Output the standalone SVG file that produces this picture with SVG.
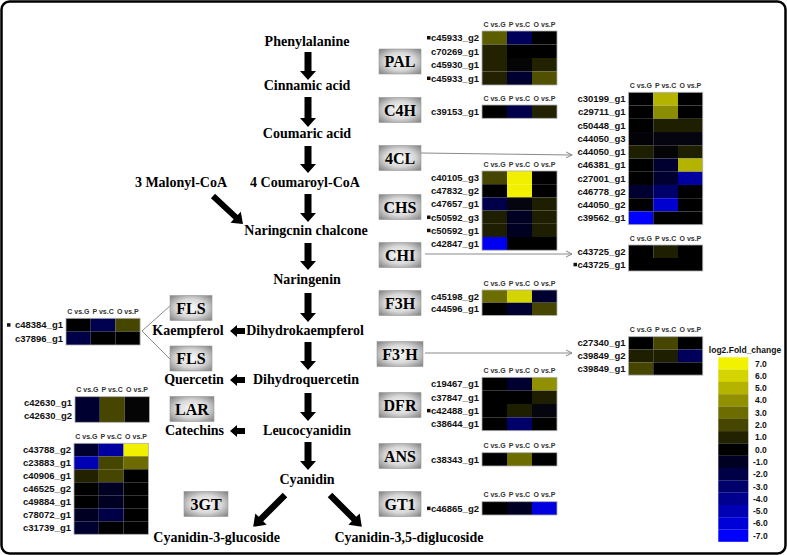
<svg xmlns="http://www.w3.org/2000/svg" width="787" height="555" viewBox="0 0 787 555">
<defs>
<radialGradient id="boxg" cx="50%" cy="50%" r="65%">
<stop offset="0" stop-color="#fbfbfb"/>
<stop offset="0.55" stop-color="#d8d8d8"/>
<stop offset="1" stop-color="#8a8a8a"/>
</radialGradient>
<marker id="thin" viewBox="0 0 8 8" refX="7" refY="4" markerWidth="8" markerHeight="8" orient="auto" markerUnits="userSpaceOnUse">
<path d="M1,1 L7,4 L1,7" fill="none" stroke="#888" stroke-width="1"/>
</marker>
</defs>
<style>
.pw{font-family:"Liberation Serif","Times New Roman",serif;font-weight:bold;font-size:14px;text-anchor:middle;fill:#000}
.enz{font-family:"Liberation Serif","Times New Roman",serif;font-weight:bold;font-size:16px;text-anchor:middle;fill:#000}
.box{fill:url(#boxg);stroke:#9a9a9a;stroke-width:0.6}
.lbl{font-family:"Liberation Sans",Arial,sans-serif;font-weight:bold;font-size:9.5px;text-anchor:end;fill:#111}
.hdr{font-family:"Liberation Sans",Arial,sans-serif;font-weight:bold;font-size:7px;text-anchor:middle;fill:#333}
.ol{fill:none;stroke:#b0b0b0;stroke-width:0.8}
.mk{fill:#111}
.thin{stroke:#8a8a8a;stroke-width:1;fill:none}
.arw{fill:#000}
.leg{font-family:"Liberation Sans",Arial,sans-serif;font-weight:bold;font-size:8.5px;fill:#111}
</style>
<rect x="1.5" y="1.5" width="784" height="552" rx="8" fill="#fff" stroke="#000" stroke-width="2.5"/>

<g id="connectors">
<path class="thin" d="M421,153 L572,155" marker-end="url(#thin)"/>
<path class="thin" d="M425,254 L572,254" marker-end="url(#thin)"/>
<path class="thin" d="M425,353 L572,353" marker-end="url(#thin)"/>
<path class="thin" d="M171,305 L142,331 L171,360"/>
<g class="arw">
<path d="M304.5,52 h7 v19 h4.5 l-8,9 l-8,-9 h4.5z"/>
<path d="M304.5,97 h7 v21 h4.5 l-8,9 l-8,-9 h4.5z"/>
<path d="M304.5,146 h7 v18 h4.5 l-8,9 l-8,-9 h4.5z"/>
<path d="M304.5,194 h7 v19 h4.5 l-8,9 l-8,-9 h4.5z"/>
<path d="M304.5,243 h7 v18 h4.5 l-8,9 l-8,-9 h4.5z"/>
<path d="M304.5,293 h7 v20 h4.5 l-8,9 l-8,-9 h4.5z"/>
<path d="M304.5,342 h7 v19 h4.5 l-8,9 l-8,-9 h4.5z"/>
<path d="M304.5,393 h7 v19 h4.5 l-8,9 l-8,-9 h4.5z"/>
<path d="M304.5,442 h7 v19 h4.5 l-8,9 l-8,-9 h4.5z"/>
<path transform="translate(213,196) rotate(43)" d="M0,-3 L31,-3 L31,-7.5 L41,0 L31,7.5 L31,3 L0,3 Z"/>
<path transform="translate(285,495) rotate(135)" d="M0,-3.2 L34,-3.2 L34,-8 L45,0 L34,8 L34,3.2 L0,3.2 Z"/>
<path transform="translate(330,495) rotate(45)" d="M0,-3.2 L34,-3.2 L34,-8 L45,0 L34,8 L34,3.2 L0,3.2 Z"/>
<path transform="translate(245,331) rotate(180)" d="M0,-3 L8,-3 L8,-6 L15,0 L8,6 L8,3 L0,3 Z"/>
<path transform="translate(245,380) rotate(180)" d="M0,-3 L8,-3 L8,-6 L15,0 L8,6 L8,3 L0,3 Z"/>
<path transform="translate(245,431) rotate(180)" d="M0,-3 L8,-3 L8,-6 L15,0 L8,6 L8,3 L0,3 Z"/>
</g>
</g>

<g id="compounds">
<g id="phenylalanine"><text class="pw" x="307" y="46">Phenylalanine</text></g>
<g id="cinnamic"><text class="pw" x="307" y="90">Cinnamic acid</text></g>
<g id="coumaric"><text class="pw" x="307" y="138">Coumaric acid</text></g>
<g id="coumaroylcoa"><text class="pw" x="305" y="187">4 Coumaroyl-CoA</text></g>
<g id="malonylcoa"><text class="pw" x="181" y="187">3 Malonyl-CoA</text></g>
<g id="chalcone"><text class="pw" x="306" y="235">Naringcnin chalcone</text></g>
<g id="naringenin"><text class="pw" x="307" y="283.5">Naringenin</text></g>
<g id="dihydrokaempferol"><text class="pw" x="305" y="335">Dihydrokaempferol</text></g>
<g id="kaempferol"><text class="pw" x="188" y="335">Kaempferol</text></g>
<g id="dihydroquercetin"><text class="pw" x="306" y="383.5">Dihydroquercetin</text></g>
<g id="quercetin"><text class="pw" x="194" y="383.5">Quercetin</text></g>
<g id="leucocyanidin"><text class="pw" x="307" y="435">Leucocyanidin</text></g>
<g id="catechins"><text class="pw" x="194.5" y="435">Catechins</text></g>
<g id="cyanidin"><text class="pw" x="307" y="483.5">Cyanidin</text></g>
<g id="cyanidin3g"><text class="pw" x="216.7" y="541.7">Cyanidin-3-glucoside</text></g>
<g id="cyanidin35dg"><text class="pw" x="409" y="541.7">Cyanidin-3,5-diglucoside</text></g>
</g>

<g id="enzymes">
<g id="PAL"><rect class="box" x="379" y="49" width="42" height="25"/><text class="enz" x="400" y="67">PAL</text></g>
<g id="C4H"><rect class="box" x="379" y="97.5" width="42" height="25"/><text class="enz" x="400" y="115.5">C4H</text></g>
<g id="4CL"><rect class="box" x="379" y="145.5" width="42" height="25"/><text class="enz" x="400" y="163.5">4CL</text></g>
<g id="CHS"><rect class="box" x="379" y="194.5" width="42" height="25"/><text class="enz" x="400" y="212.5">CHS</text></g>
<g id="CHI"><rect class="box" x="379" y="242.5" width="42" height="25"/><text class="enz" x="400" y="260.5">CHI</text></g>
<g id="F3H"><rect class="box" x="379" y="290.5" width="42" height="25"/><text class="enz" x="400" y="308.5">F3H</text></g>
<g id="F3pH"><rect class="box" x="377" y="341.5" width="46" height="25"/><text class="enz" x="400" y="359.5">F3’H</text></g>
<g id="DFR"><rect class="box" x="379" y="392.5" width="42" height="25"/><text class="enz" x="400" y="410.5">DFR</text></g>
<g id="ANS"><rect class="box" x="379" y="443.5" width="42" height="25"/><text class="enz" x="400" y="461.5">ANS</text></g>
<g id="GT1"><rect class="box" x="379" y="491.5" width="42" height="25"/><text class="enz" x="400" y="509.5">GT1</text></g>
<g id="FLS1"><rect class="box" x="170" y="295.5" width="42" height="25"/><text class="enz" x="191" y="313.5">FLS</text></g>
<g id="FLS2"><rect class="box" x="170" y="346" width="42" height="25"/><text class="enz" x="191" y="364">FLS</text></g>
<g id="LAR"><rect class="box" x="170" y="396.5" width="44" height="25"/><text class="enz" x="192" y="414.5">LAR</text></g>
<g id="3GT"><rect class="box" x="184" y="491.5" width="44" height="25"/><text class="enz" x="206" y="509.5">3GT</text></g>
</g>

<g id="hm-PAL" transform="translate(482,31)">
<text class="hdr" x="12.5" y="-4.5">C vs.G</text><text class="hdr" x="37.5" y="-4.5">P vs.C</text><text class="hdr" x="62.5" y="-4.5">O vs.P</text>
<rect x="0" y="0" width="25" height="13.5" fill="#5c5c00"/><rect x="25" y="0" width="25" height="13.5" fill="#00005a"/><rect x="50" y="0" width="25" height="13.5" fill="#000"/>
<rect x="0" y="13.5" width="25" height="13.5" fill="#222200"/><rect x="25" y="13.5" width="25" height="13.5" fill="#000"/><rect x="50" y="13.5" width="25" height="13.5" fill="#000"/>
<rect x="0" y="27" width="25" height="13.5" fill="#222200"/><rect x="25" y="27" width="25" height="13.5" fill="#050505"/><rect x="50" y="27" width="25" height="13.5" fill="#222200"/>
<rect x="0" y="40.5" width="25" height="13.5" fill="#222200"/><rect x="25" y="40.5" width="25" height="13.5" fill="#000030"/><rect x="50" y="40.5" width="25" height="13.5" fill="#505000"/>
<rect class="ol" x="0" y="0" width="75" height="54"/>
<text class="lbl" x="-3" y="10.2">c45933_g2</text><text class="lbl" x="-3" y="23.7">c70269_g1</text><text class="lbl" x="-3" y="37.2">c45930_g1</text><text class="lbl" x="-3" y="50.7">c45933_g1</text>
<rect class="mk" x="-55" y="5" width="3.5" height="3.5"/><rect class="mk" x="-55" y="45.5" width="3.5" height="3.5"/>
</g>

<g id="hm-C4H" transform="translate(482,105)">
<text class="hdr" x="12.5" y="-4.5">C vs.G</text><text class="hdr" x="37.5" y="-4.5">P vs.C</text><text class="hdr" x="62.5" y="-4.5">O vs.P</text>
<rect x="0" y="0" width="25" height="13.3" fill="#000"/><rect x="25" y="0" width="25" height="13.3" fill="#00004a"/><rect x="50" y="0" width="25" height="13.3" fill="#222200"/>
<rect class="ol" x="0" y="0" width="75" height="13.3"/>
<text class="lbl" x="-3" y="10">c39153_g1</text>
</g>

<g id="hm-CHS" transform="translate(482,171)">
<text class="hdr" x="12.5" y="-4.5">C vs.G</text><text class="hdr" x="37.5" y="-4.5">P vs.C</text><text class="hdr" x="62.5" y="-4.5">O vs.P</text>
<rect x="0" y="0" width="25" height="13.2" fill="#464600"/><rect x="25" y="0" width="25" height="13.2" fill="#f0f000"/><rect x="50" y="0" width="25" height="13.2" fill="#000"/>
<rect x="0" y="13.2" width="25" height="13.2" fill="#000"/><rect x="25" y="13.2" width="25" height="13.2" fill="#f0f000"/><rect x="50" y="13.2" width="25" height="13.2" fill="#000"/>
<rect x="0" y="26.4" width="25" height="13.2" fill="#00004a"/><rect x="25" y="26.4" width="25" height="13.2" fill="#050510"/><rect x="50" y="26.4" width="25" height="13.2" fill="#1e1e00"/>
<rect x="0" y="39.6" width="25" height="13.2" fill="#1e1e00"/><rect x="25" y="39.6" width="25" height="13.2" fill="#000022"/><rect x="50" y="39.6" width="25" height="13.2" fill="#1e1e00"/>
<rect x="0" y="52.8" width="25" height="13.2" fill="#1e1e00"/><rect x="25" y="52.8" width="25" height="13.2" fill="#000022"/><rect x="50" y="52.8" width="25" height="13.2" fill="#1e1e00"/>
<rect x="0" y="66" width="25" height="13.2" fill="#0000f0"/><rect x="25" y="66" width="25" height="13.2" fill="#000"/><rect x="50" y="66" width="25" height="13.2" fill="#000"/>
<rect class="ol" x="0" y="0" width="75" height="79.2"/>
<text class="lbl" x="-3" y="10">c40105_g3</text><text class="lbl" x="-3" y="23.2">c47832_g2</text><text class="lbl" x="-3" y="36.4">c47657_g1</text><text class="lbl" x="-3" y="49.6">c50592_g3</text><text class="lbl" x="-3" y="62.8">c50592_g1</text><text class="lbl" x="-3" y="76">c42847_g1</text>
<rect class="mk" x="-55" y="44.5" width="3.5" height="3.5"/><rect class="mk" x="-55" y="57.7" width="3.5" height="3.5"/>
</g>

<g id="hm-4CL" transform="translate(628.5,92.3)">
<text class="hdr" x="12.4" y="-4.5">C vs.G</text><text class="hdr" x="37.1" y="-4.5">P vs.C</text><text class="hdr" x="61.9" y="-4.5">O vs.P</text>
<rect x="0" y="0" width="24.75" height="13.24" fill="#000"/><rect x="24.75" y="0" width="24.75" height="13.24" fill="#b4b400"/><rect x="49.5" y="0" width="24.75" height="13.24" fill="#000"/>
<rect x="0" y="13.24" width="24.75" height="13.24" fill="#000"/><rect x="24.75" y="13.24" width="24.75" height="13.24" fill="#8c8c00"/><rect x="49.5" y="13.24" width="24.75" height="13.24" fill="#000"/>
<rect x="0" y="26.48" width="24.75" height="13.24" fill="#000"/><rect x="24.75" y="26.48" width="24.75" height="13.24" fill="#1e1e00"/><rect x="49.5" y="26.48" width="24.75" height="13.24" fill="#1e1e00"/>
<rect x="0" y="39.72" width="24.75" height="13.24" fill="#020208"/><rect x="24.75" y="39.72" width="24.75" height="13.24" fill="#050510"/><rect x="49.5" y="39.72" width="24.75" height="13.24" fill="#050510"/>
<rect x="0" y="52.96" width="24.75" height="13.24" fill="#1e1e00"/><rect x="24.75" y="52.96" width="24.75" height="13.24" fill="#050505"/><rect x="49.5" y="52.96" width="24.75" height="13.24" fill="#1e1e00"/>
<rect x="0" y="66.2" width="24.75" height="13.24" fill="#000"/><rect x="24.75" y="66.2" width="24.75" height="13.24" fill="#000030"/><rect x="49.5" y="66.2" width="24.75" height="13.24" fill="#b4b400"/>
<rect x="0" y="79.44" width="24.75" height="13.24" fill="#000"/><rect x="24.75" y="79.44" width="24.75" height="13.24" fill="#000030"/><rect x="49.5" y="79.44" width="24.75" height="13.24" fill="#0000a0"/>
<rect x="0" y="92.68" width="24.75" height="13.24" fill="#000030"/><rect x="24.75" y="92.68" width="24.75" height="13.24" fill="#00006a"/><rect x="49.5" y="92.68" width="24.75" height="13.24" fill="#000"/>
<rect x="0" y="105.92" width="24.75" height="13.24" fill="#000"/><rect x="24.75" y="105.92" width="24.75" height="13.24" fill="#0000d0"/><rect x="49.5" y="105.92" width="24.75" height="13.24" fill="#000"/>
<rect x="0" y="119.16" width="24.75" height="13.24" fill="#0000ff"/><rect x="24.75" y="119.16" width="24.75" height="13.24" fill="#000"/><rect x="49.5" y="119.16" width="24.75" height="13.24" fill="#000"/>
<rect class="ol" x="0" y="0" width="74.25" height="132.4"/>
<text class="lbl" x="-3" y="10">c30199_g1</text><text class="lbl" x="-3" y="23.2">c29711_g1</text><text class="lbl" x="-3" y="36.5">c50448_g1</text><text class="lbl" x="-3" y="49.7">c44050_g3</text><text class="lbl" x="-3" y="63">c44050_g1</text><text class="lbl" x="-3" y="76.2">c46381_g1</text><text class="lbl" x="-3" y="89.4">c27001_g1</text><text class="lbl" x="-3" y="102.7">c46778_g2</text><text class="lbl" x="-3" y="115.9">c44050_g2</text><text class="lbl" x="-3" y="129.2">c39562_g1</text>
</g>

<g id="hm-CHI" transform="translate(628.5,245)">
<text class="hdr" x="12.4" y="-4.5">C vs.G</text><text class="hdr" x="37.1" y="-4.5">P vs.C</text><text class="hdr" x="61.9" y="-4.5">O vs.P</text>
<rect x="0" y="0" width="24.75" height="13" fill="#000"/><rect x="24.75" y="0" width="24.75" height="13" fill="#1e1e00"/><rect x="49.5" y="0" width="24.75" height="13" fill="#000"/>
<rect x="0" y="13" width="74.25" height="13" fill="#000"/>
<rect class="ol" x="0" y="0" width="74.25" height="26"/>
<text class="lbl" x="-3" y="9.9">c43725_g2</text><text class="lbl" x="-3" y="22.9">c43725_g1</text>
<rect class="mk" x="-55" y="17.8" width="3.5" height="3.5"/>
</g>

<g id="hm-F3H" transform="translate(482,290)">
<text class="hdr" x="12.5" y="-4.5">C vs.G</text><text class="hdr" x="37.5" y="-4.5">P vs.C</text><text class="hdr" x="62.5" y="-4.5">O vs.P</text>
<rect x="0" y="0" width="25" height="12.7" fill="#6c6c00"/><rect x="25" y="0" width="25" height="12.7" fill="#d4d400"/><rect x="50" y="0" width="25" height="12.7" fill="#000030"/>
<rect x="0" y="12.7" width="25" height="12.7" fill="#000"/><rect x="25" y="12.7" width="25" height="12.7" fill="#000030"/><rect x="50" y="12.7" width="25" height="12.7" fill="#464600"/>
<rect class="ol" x="0" y="0" width="75" height="25.4"/>
<text class="lbl" x="-3" y="9.7">c45198_g2</text><text class="lbl" x="-3" y="22.4">c44596_g1</text>
</g>

<g id="hm-F3pH" transform="translate(628.5,336.7)">
<text class="hdr" x="12.4" y="-4.5">C vs.G</text><text class="hdr" x="37.1" y="-4.5">P vs.C</text><text class="hdr" x="61.9" y="-4.5">O vs.P</text>
<rect x="0" y="0" width="24.75" height="12.8" fill="#000"/><rect x="24.75" y="0" width="24.75" height="12.8" fill="#464600"/><rect x="49.5" y="0" width="24.75" height="12.8" fill="#000"/>
<rect x="0" y="12.8" width="24.75" height="12.8" fill="#1e1e00"/><rect x="24.75" y="12.8" width="24.75" height="12.8" fill="#1e1e00"/><rect x="49.5" y="12.8" width="24.75" height="12.8" fill="#00005a"/>
<rect x="0" y="25.6" width="24.75" height="12.8" fill="#464600"/><rect x="24.75" y="25.6" width="24.75" height="12.8" fill="#000"/><rect x="49.5" y="25.6" width="24.75" height="12.8" fill="#000"/>
<rect class="ol" x="0" y="0" width="74.25" height="38.4"/>
<text class="lbl" x="-3" y="9.8">c27340_g1</text><text class="lbl" x="-3" y="22.6">c39849_g2</text><text class="lbl" x="-3" y="35.4">c39849_g1</text>
</g>

<g id="hm-DFR" transform="translate(482,377.3)">
<text class="hdr" x="12.5" y="-4.5">C vs.G</text><text class="hdr" x="37.5" y="-4.5">P vs.C</text><text class="hdr" x="62.5" y="-4.5">O vs.P</text>
<rect x="0" y="0" width="25" height="13.35" fill="#000"/><rect x="25" y="0" width="25" height="13.35" fill="#000030"/><rect x="50" y="0" width="25" height="13.35" fill="#909000"/>
<rect x="0" y="13.35" width="25" height="13.35" fill="#000"/><rect x="25" y="13.35" width="25" height="13.35" fill="#000"/><rect x="50" y="13.35" width="25" height="13.35" fill="#1e1e00"/>
<rect x="0" y="26.7" width="25" height="13.35" fill="#000"/><rect x="25" y="26.7" width="25" height="13.35" fill="#1e1e00"/><rect x="50" y="26.7" width="25" height="13.35" fill="#050510"/>
<rect x="0" y="40.05" width="25" height="13.35" fill="#000"/><rect x="25" y="40.05" width="25" height="13.35" fill="#00006a"/><rect x="50" y="40.05" width="25" height="13.35" fill="#000"/>
<rect class="ol" x="0" y="0" width="75" height="53.4"/>
<text class="lbl" x="-3" y="10.1">c19467_g1</text><text class="lbl" x="-3" y="23.4">c37847_g1</text><text class="lbl" x="-3" y="36.8">c42488_g1</text><text class="lbl" x="-3" y="50.1">c38644_g1</text>
<rect class="mk" x="-55" y="31.6" width="3.5" height="3.5"/>
</g>

<g id="hm-ANS" transform="translate(482,452.7)">
<text class="hdr" x="12.5" y="-4.5">C vs.G</text><text class="hdr" x="37.5" y="-4.5">P vs.C</text><text class="hdr" x="62.5" y="-4.5">O vs.P</text>
<rect x="0" y="0" width="25" height="13.3" fill="#000"/><rect x="25" y="0" width="25" height="13.3" fill="#6c6c00"/><rect x="50" y="0" width="25" height="13.3" fill="#000"/>
<rect class="ol" x="0" y="0" width="75" height="13.3"/>
<text class="lbl" x="-3" y="10">c38343_g1</text>
</g>

<g id="hm-GT1" transform="translate(482,501.7)">
<text class="hdr" x="12.5" y="-4.5">C vs.G</text><text class="hdr" x="37.5" y="-4.5">P vs.C</text><text class="hdr" x="62.5" y="-4.5">O vs.P</text>
<rect x="0" y="0" width="25" height="13.3" fill="#000"/><rect x="25" y="0" width="25" height="13.3" fill="#000022"/><rect x="50" y="0" width="25" height="13.3" fill="#0000e0"/>
<rect class="ol" x="0" y="0" width="75" height="13.3"/>
<text class="lbl" x="-3" y="10">c46865_g2</text>
<rect class="mk" x="-55" y="4.9" width="3.5" height="3.5"/>
</g>

<g id="hm-FLS" transform="translate(66,318.3)">
<text class="hdr" x="12.4" y="-4.5">C vs.G</text><text class="hdr" x="37.1" y="-4.5">P vs.C</text><text class="hdr" x="61.8" y="-4.5">O vs.P</text>
<rect x="0" y="0" width="24.7" height="13.35" fill="#000"/><rect x="24.7" y="0" width="24.7" height="13.35" fill="#000050"/><rect x="49.4" y="0" width="24.7" height="13.35" fill="#464600"/>
<rect x="0" y="13.35" width="24.7" height="13.35" fill="#000046"/><rect x="24.7" y="13.35" width="24.7" height="13.35" fill="#000"/><rect x="49.4" y="13.35" width="24.7" height="13.35" fill="#000"/>
<rect class="ol" x="0" y="0" width="74.1" height="26.7"/>
<text class="lbl" x="-3" y="10.1">c48384_g1</text><text class="lbl" x="-3" y="23.4">c37896_g1</text>
<rect class="mk" x="-59" y="4.9" width="3.5" height="3.5"/>
</g>

<g id="hm-LAR" transform="translate(75,396.7)">
<text class="hdr" x="12.4" y="-4.5">C vs.G</text><text class="hdr" x="37.2" y="-4.5">P vs.C</text><text class="hdr" x="62" y="-4.5">O vs.P</text>
<rect x="0" y="0" width="24.8" height="25.6" fill="#000030"/><rect x="24.8" y="0" width="24.8" height="25.6" fill="#464600"/><rect x="49.6" y="0" width="24.8" height="25.6" fill="#050505"/>
<rect class="ol" x="0" y="0" width="74.4" height="25.6"/>
<text class="lbl" x="-3" y="9.8">c42630_g1</text><text class="lbl" x="-3" y="22.6">c42630_g2</text>
</g>

<g id="hm-3GT" transform="translate(74,443.3)">
<text class="hdr" x="12.4" y="-4.5">C vs.G</text><text class="hdr" x="37.2" y="-4.5">P vs.C</text><text class="hdr" x="62" y="-4.5">O vs.P</text>
<rect x="0" y="0" width="24.8" height="13" fill="#000030"/><rect x="24.8" y="0" width="24.8" height="13" fill="#0000a0"/><rect x="49.6" y="0" width="24.8" height="13" fill="#f0f000"/>
<rect x="0" y="13" width="24.8" height="13" fill="#0000b4"/><rect x="24.8" y="13" width="24.8" height="13" fill="#464600"/><rect x="49.6" y="13" width="24.8" height="13" fill="#6c6c00"/>
<rect x="0" y="26" width="24.8" height="13" fill="#222200"/><rect x="24.8" y="26" width="24.8" height="13" fill="#464600"/><rect x="49.6" y="26" width="24.8" height="13" fill="#000"/>
<rect x="0" y="39" width="24.8" height="13" fill="#000"/><rect x="24.8" y="39" width="24.8" height="13" fill="#000022"/><rect x="49.6" y="39" width="24.8" height="13" fill="#000"/>
<rect x="0" y="52" width="24.8" height="13" fill="#000"/><rect x="24.8" y="52" width="24.8" height="13" fill="#000022"/><rect x="49.6" y="52" width="24.8" height="13" fill="#000"/>
<rect x="0" y="65" width="24.8" height="13" fill="#000022"/><rect x="24.8" y="65" width="24.8" height="13" fill="#000046"/><rect x="49.6" y="65" width="24.8" height="13" fill="#000"/>
<rect x="0" y="78" width="24.8" height="13" fill="#000030"/><rect x="24.8" y="78" width="24.8" height="13" fill="#000"/><rect x="49.6" y="78" width="24.8" height="13" fill="#000"/>
<rect class="ol" x="0" y="0" width="74.4" height="91"/>
<text class="lbl" x="-3" y="9.9">c43788_g2</text><text class="lbl" x="-3" y="22.9">c23883_g1</text><text class="lbl" x="-3" y="35.9">c40906_g1</text><text class="lbl" x="-3" y="48.9">c46525_g2</text><text class="lbl" x="-3" y="61.9">c49884_g1</text><text class="lbl" x="-3" y="74.9">c78072_g1</text><text class="lbl" x="-3" y="87.9">c31739_g1</text>
</g>

<g id="legend">
<text class="leg" x="745" y="353" text-anchor="middle" font-size="8">log2.Fold_change</text>
<rect x="718.3" y="357.3" width="30" height="12.4" fill="#f2f200"/>
<rect x="718.3" y="369.6" width="30" height="12.4" fill="#d4d400"/>
<rect x="718.3" y="381.9" width="30" height="12.4" fill="#b4b400"/>
<rect x="718.3" y="394.2" width="30" height="12.4" fill="#909000"/>
<rect x="718.3" y="406.5" width="30" height="12.4" fill="#6c6c00"/>
<rect x="718.3" y="418.8" width="30" height="12.4" fill="#464600"/>
<rect x="718.3" y="431.1" width="30" height="12.4" fill="#222200"/>
<rect x="718.3" y="443.4" width="30" height="12.4" fill="#000000"/>
<rect x="718.3" y="455.7" width="30" height="12.4" fill="#000022"/>
<rect x="718.3" y="468" width="30" height="12.4" fill="#000046"/>
<rect x="718.3" y="480.3" width="30" height="12.4" fill="#00006a"/>
<rect x="718.3" y="492.6" width="30" height="12.4" fill="#00008f"/>
<rect x="718.3" y="504.9" width="30" height="12.4" fill="#0000b4"/>
<rect x="718.3" y="517.2" width="30" height="12.4" fill="#0000d8"/>
<rect x="718.3" y="529.5" width="30" height="12.3" fill="#0000ff"/>
<text class="leg" x="755" y="366.5">7.0</text>
<text class="leg" x="755" y="378.8">6.0</text>
<text class="leg" x="755" y="391.1">5.0</text>
<text class="leg" x="755" y="403.4">4.0</text>
<text class="leg" x="755" y="415.7">3.0</text>
<text class="leg" x="755" y="428">2.0</text>
<text class="leg" x="755" y="440.3">1.0</text>
<text class="leg" x="755" y="452.6">0.0</text>
<text class="leg" x="753" y="464.9">-1.0</text>
<text class="leg" x="753" y="477.2">-2.0</text>
<text class="leg" x="753" y="489.5">-3.0</text>
<text class="leg" x="753" y="501.8">-4.0</text>
<text class="leg" x="753" y="514.1">-5.0</text>
<text class="leg" x="753" y="526.4">-6.0</text>
<text class="leg" x="753" y="538.7">-7.0</text>
</g>
</svg>
